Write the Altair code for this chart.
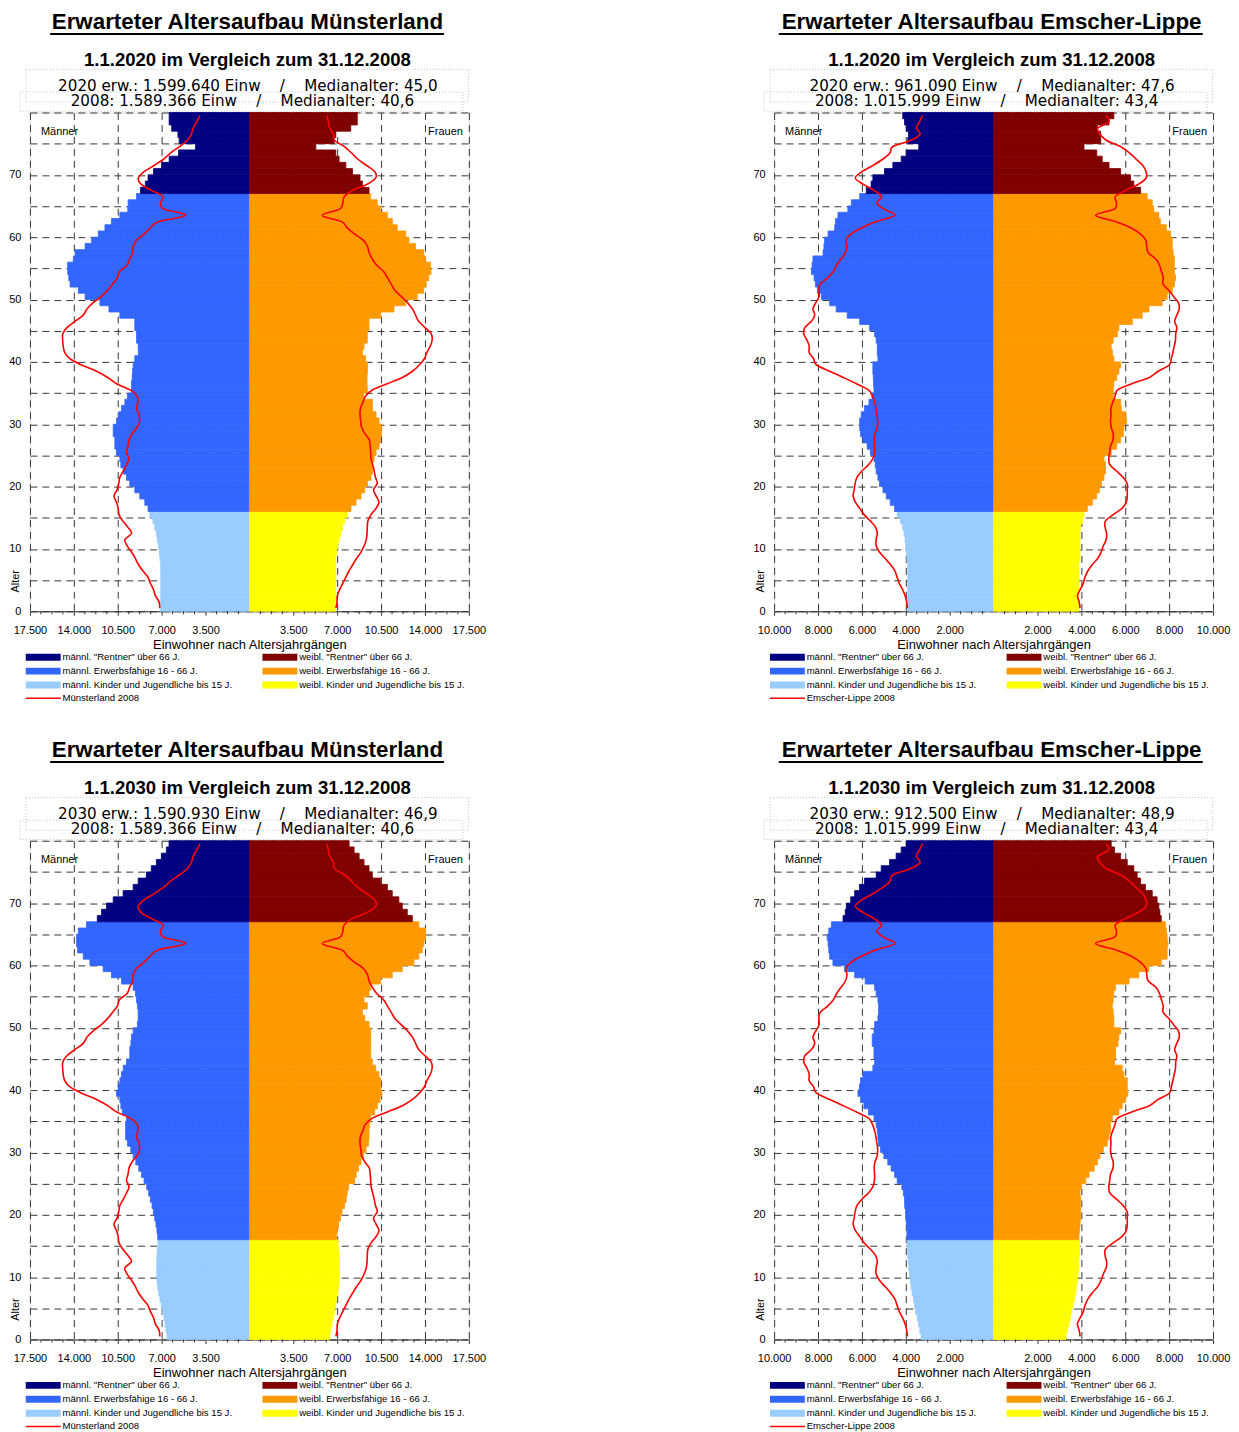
import altair as alt
import pandas as pd

FONT = "Liberation Sans"
WIDE = "DejaVu Sans"
AGES = list(range(80))

M_GROUPS = ['männl. "Rentner" über 66 J.', 'männl. Erwerbsfähige 16 - 66 J.', 'männl. Kinder und Jugendliche bis 15 J.']
F_GROUPS = ['weibl. "Rentner" über 66 J.', 'weibl. Erwerbsfähige 16 - 66 J.', 'weibl. Kinder und Jugendliche bis 15 J.']
M_COLORS = ["#000080", "#3366ff", "#99ccff"]
F_COLORS = ["#800000", "#ff9900", "#ffff00"]

# ---- Münsterland, expected 1.1.2020 (ages 0..79)
MS20_M = [7070, 7070, 7070, 7070, 7070, 7070, 7070, 7070, 7130, 7180,
          7260, 7340, 7420, 7550, 7690, 7950, 8080, 8340, 8740, 9140,
          9540, 9800, 10060, 10250, 10330, 10600, 10730, 10730, 10860, 10860,
          10600, 10410, 10200, 9930, 9720, 9400, 9400, 9350, 9320, 9270,
          9140, 8850, 8870, 9000, 9000, 9140, 9140, 10330, 11200, 11920,
          13100, 13640, 14300, 14400, 14490, 14490, 14040, 13900, 13100, 12580,
          12050, 11520, 11000, 10330, 9700, 9670, 9000, 8680, 8300, 8080,
          7650, 7000, 6400, 5650, 4300, 5600, 5700, 6200, 6400, 6400]
MS20_F = [6890, 6890, 6890, 6890, 6890, 6890, 6890, 6890, 6890, 6960,
          7050, 7160, 7300, 7430, 7600, 7820, 8100, 8500, 8900, 9200,
          9410, 9700, 9810, 9810, 9940, 10100, 10340, 10450, 10520, 10520,
          10340, 10100, 9810, 9810, 9100, 9400, 9380, 9380, 9410, 9410,
          9270, 9010, 9140, 9400, 9400, 9540, 9540, 10470, 11530, 12460,
          13380, 13900, 14100, 14300, 14480, 14450, 14040, 13910, 13250, 12720,
          12460, 11790, 11400, 11000, 10470, 10200, 9670, 9540, 9010, 8820,
          8220, 7690, 7150, 6890, 5300, 6760, 6890, 8080, 8600, 8600]
# ---- Münsterland, expected 1.1.2030
MS30_M = [6570, 6650, 6730, 6810, 6920, 7020, 7130, 7230, 7310, 7370,
          7390, 7390, 7390, 7370, 7340, 7290, 7310, 7370, 7450, 7550,
          7660, 7760, 7900, 8030, 8190, 8400, 8610, 8820, 9060, 9270,
          9460, 9720, 9870, 9870, 9870, 9800, 10140, 10250, 10330, 10600,
          10460, 10330, 10200, 10060, 9800, 9540, 9540, 9450, 9410, 9270,
          8930, 8870, 8870, 8930, 9000, 9080, 9270, 10200, 11000, 11660,
          12720, 13250, 13700, 13780, 13780, 13640, 12990, 12130, 11790, 11400,
          10860, 10070, 9270, 8870, 8220, 7820, 7420, 7020, 6620, 6410]
MS30_F = [6400, 6480, 6590, 6690, 6800, 6880, 6960, 7060, 7110, 7160,
          7190, 7190, 7190, 7160, 7110, 7060, 6960, 7010, 7110, 7270,
          7380, 7590, 7720, 7800, 7910, 8390, 8520, 8700, 8900, 9100,
          9300, 9490, 9540, 9540, 9600, 9670, 9990, 10200, 10420, 10550,
          10470, 10470, 10330, 10070, 9800, 9670, 9670, 9670, 9670, 9670,
          9540, 9200, 9010, 9400, 9140, 9540, 9670, 10470, 11390, 12190,
          13120, 13510, 13780, 13910, 14040, 14040, 13510, 12990, 12590, 12190,
          11920, 11390, 11000, 10470, 9800, 9540, 9140, 8750, 8350, 7950]
# ---- Münsterland 31.12.2008 (red line)
MS08_M = [7150, 7200, 7500, 7650, 7900, 8100, 8500, 8850, 9100, 9400,
          9750, 9930, 9400, 9700, 10100, 10400, 10460, 10600, 10800, 10550,
          10420, 10330, 10050, 9800, 9600, 9800, 9680, 9600, 9350, 8950,
          8750, 8800, 9000, 8900, 8950, 9500, 10600, 11300, 12190, 13380,
          14300, 14720, 14850, 14890, 14880, 14550, 13910, 13250, 12950, 12450,
          11800, 11300, 10900, 10520, 10360, 9750, 9550, 9300, 9270, 9010,
          8400, 7900, 7240, 5100, 6800, 7100, 6900, 7800, 8650, 8850,
          8400, 7600, 6850, 6300, 5600, 4950, 4630, 4480, 4200, 3950]
MS08_F = [6900, 6990, 7010, 7200, 7450, 7700, 7950, 8250, 8550, 8900,
          9150, 9320, 9380, 9400, 9450, 9700, 10100, 10330, 10100, 9900,
          10200, 10050, 9950, 9830, 9700, 9670, 9630, 9560, 9200, 8950,
          8880, 8820, 8850, 9050, 9250, 9800, 11000, 12200, 13000, 13550,
          13950, 14150, 14420, 14570, 14500, 14000, 13500, 13250, 13000, 12600,
          12100, 11600, 11300, 11000, 10700, 10150, 9800, 9550, 9420, 9100,
          8400, 7800, 7350, 5800, 7200, 7450, 7560, 8200, 9400, 10070,
          10000, 9350, 8650, 8150, 7600, 6800, 6700, 6420, 6300, 6180]

# ---- Emscher-Lippe, expected 1.1.2020
EL20_M = [3910, 3910, 3910, 3910, 3910, 3910, 3910, 3910, 3950, 3970,
          4000, 4030, 4080, 4140, 4240, 4390, 4510, 4710, 4890, 5040,
          5200, 5270, 5350, 5390, 5450, 5610, 5760, 5950, 6060, 6100,
          6100, 6030, 5880, 5680, 5540, 5450, 5470, 5480, 5500, 5500,
          5270, 5300, 5300, 5350, 5420, 5650, 6100, 6670, 7170, 7470,
          7850, 8030, 8120, 8180, 8300, 8270, 8230, 7770, 7730, 7700,
          7540, 7240, 7200, 7090, 6640, 6480, 6100, 5800, 5580, 5500,
          4970, 4590, 4210, 3980, 3410, 3910, 3880, 3980, 4060, 4140]
EL20_F = [3890, 3890, 3890, 3890, 3890, 3890, 3890, 3890, 3940, 3940,
          3940, 3940, 3940, 3970, 4050, 4120, 4270, 4500, 4700, 4820,
          4910, 5030, 5100, 5100, 5030, 5360, 5610, 5790, 5910, 5940,
          6060, 6010, 5820, 5790, 5450, 5450, 5480, 5610, 5710, 5790,
          5480, 5410, 5360, 5450, 5640, 5710, 6320, 6770, 7080, 7680,
          7910, 8140, 8240, 8290, 8240, 8240, 8240, 8180, 8140, 8140,
          8060, 7880, 7600, 7530, 7300, 7230, 7000, 6700, 6390, 6240,
          5790, 5260, 4950, 4700, 4120, 4880, 4880, 4730, 5260, 5480]
# ---- Emscher-Lippe, expected 1.1.2030
EL30_M = [3300, 3360, 3420, 3480, 3550, 3610, 3650, 3710, 3760, 3800,
          3830, 3860, 3890, 3910, 3920, 3940, 3950, 3950, 3970, 4000,
          4010, 4050, 4060, 4110, 4180, 4390, 4510, 4670, 4820, 5000,
          5150, 5240, 5270, 5300, 5350, 5450, 5700, 5910, 6060, 6180,
          6110, 6060, 5950, 5500, 5420, 5450, 5450, 5530, 5530, 5450,
          5420, 5270, 5240, 5240, 5270, 5350, 5420, 5850, 6330, 6790,
          7320, 7470, 7510, 7540, 7580, 7510, 7390, 6860, 6760, 6710,
          6510, 6330, 6110, 5880, 5350, 5120, 4740, 4440, 4210, 3980]
EL30_F = [3300, 3360, 3440, 3500, 3560, 3620, 3680, 3740, 3790, 3820,
          3850, 3880, 3890, 3910, 3920, 3920, 3890, 3910, 3940, 3960,
          3970, 3970, 3970, 3940, 4000, 4200, 4350, 4580, 4730, 4850,
          5000, 5180, 5260, 5330, 5330, 5410, 5710, 5860, 6010, 6120,
          6090, 6090, 5940, 5860, 5510, 5560, 5560, 5670, 5710, 5790,
          5480, 5480, 5450, 5410, 5450, 5480, 5560, 6170, 6620, 7080,
          7640, 7910, 7910, 7940, 7910, 7880, 7830, 7640, 7580, 7530,
          7450, 7230, 6920, 6700, 6540, 6390, 6090, 5790, 5510, 5360]
# ---- Emscher-Lippe 31.12.2008 (red line)
EL08_M = [3920, 3960, 4030, 4150, 4300, 4400, 4500, 4700, 4950, 5200,
          5350, 5350, 5300, 5380, 5620, 5900, 6100, 6300, 6400, 6350,
          6310, 6220, 6000, 5700, 5500, 5430, 5420, 5440, 5400, 5300,
          5280, 5320, 5360, 5420, 5520, 5700, 6250, 6850, 7470, 8070,
          8200, 8400, 8400, 8500, 8650, 8600, 8300, 8150, 8230, 8100,
          7950, 7960, 7900, 7550, 7300, 7150, 6950, 6750, 6680, 6730,
          6500, 6000, 5350, 4500, 5000, 5320, 5100, 5450, 5950, 6300,
          6000, 5500, 5050, 4720, 4600, 3800, 3350, 3520, 3380, 3240]
EL08_F = [3940, 3900, 3820, 3950, 4090, 4170, 4300, 4500, 4750, 4900,
          5000, 5130, 5150, 5080, 5100, 5450, 5850, 6050, 6090, 6090,
          6090, 5900, 5600, 5300, 5250, 5290, 5330, 5440, 5450, 5360,
          5330, 5350, 5340, 5430, 5540, 5650, 6300, 7100, 7500, 8000,
          8100, 8170, 8230, 8290, 8300, 8350, 8250, 8350, 8460, 8420,
          8200, 7980, 7720, 7730, 7650, 7560, 7400, 7050, 6980, 6940,
          6700, 6250, 5550, 4650, 5500, 5600, 5550, 6000, 6600, 6950,
          6950, 6800, 6500, 6200, 5800, 5150, 4850, 4750, 5250, 5120]

SEP = "\u00a0\u00a0\u00a0\u00a0/\u00a0\u00a0\u00a0\u00a0"
PANELS = [
    dict(region="Münsterland", date="1.1.2020", m=MS20_M, f=MS20_F, m08=MS08_M, f08=MS08_F,
         line1="2020 erw.: 1.599.640 Einw" + SEP + "Medianalter: 45,0",
         line2="2008: 1.589.366 Einw" + SEP + "Medianalter: 40,6",
         xmax=17500, step=3500, minor=875, ul=(20.3, 415.0)),
    dict(region="Emscher-Lippe", date="1.1.2020", m=EL20_M, f=EL20_F, m08=EL08_M, f08=EL08_F,
         line1="2020 erw.: 961.090 Einw" + SEP + "Medianalter: 47,6",
         line2="2008: 1.015.999 Einw" + SEP + "Medianalter: 43,4",
         xmax=10000, step=2000, minor=500, ul=(4.7, 429.7)),
    dict(region="Münsterland", date="1.1.2030", m=MS30_M, f=MS30_F, m08=MS08_M, f08=MS08_F,
         line1="2030 erw.: 1.590.930 Einw" + SEP + "Medianalter: 46,9",
         line2="2008: 1.589.366 Einw" + SEP + "Medianalter: 40,6",
         xmax=17500, step=3500, minor=875, ul=(20.3, 415.0)),
    dict(region="Emscher-Lippe", date="1.1.2030", m=EL30_M, f=EL30_F, m08=EL08_M, f08=EL08_F,
         line1="2030 erw.: 912.500 Einw" + SEP + "Medianalter: 48,9",
         line2="2008: 1.015.999 Einw" + SEP + "Medianalter: 43,4",
         xmax=10000, step=2000, minor=500, ul=(4.7, 429.7)),
]

W, H = 440, 500
GRID = "#363636"
SWATCH = "M-5,-1H5V1H-5Z"
LINE_SYM = "M-5,0H5"


def group_of(a, groups):
    return groups[0] if a >= 67 else (groups[1] if a >= 16 else groups[2])


def legend(x, y, sym, sw=0):
    return alt.Legend(title=None, orient="none", legendX=x, legendY=y, symbolType=sym,
                      symbolSize=49, symbolStrokeWidth=sw, labelFontSize=9.6, labelFont=FONT,
                      labelColor="black", labelOffset=14.5, rowPadding=3, padding=0,
                      labelLimit=400, symbolOpacity=1)


def text(s, x, y, size, weight="normal", align="center", font=FONT):
    return alt.Chart(pd.DataFrame({"t": [s]})).mark_text(
        align=align, baseline="alphabetic", fontSize=size, fontWeight=weight, font=font,
        color="black").encode(text="t:N", x=alt.value(x), y=alt.value(y))


def box(x1, x2, y1, y2):
    return alt.Chart(pd.DataFrame({"k": [0]})).mark_rect(
        filled=False, color="#c4c4c4", strokeDash=[1, 2], strokeWidth=1).encode(
        x=alt.value(x1), x2=alt.value(x2), y=alt.value(y1), y2=alt.value(y2))


def panel(p):
    xmax, step = p["xmax"], p["step"]
    majors = [k * step for k in range(-5, 6) if k != 0]
    minors = [k * p["minor"] for k in range(-20, 21) if k % 4 != 0]
    xscale = alt.Scale(domain=[-xmax, xmax], nice=False, zero=False)
    yscale = alt.Scale(domain=[0, 80], nice=False, zero=False)
    xaxis = alt.Axis(values=majors,
                     labelExpr="datum.value == 0 ? '' : replace(format(abs(datum.value), ','), ',', '.')",
                     grid=True, gridDash=[7, 5], gridColor=GRID, gridWidth=1,
                     domain=True, domainColor="#333333", ticks=True, tickColor="#333333", tickSize=4,
                     labelFontSize=11, labelFont=FONT, labelColor="black", labelPadding=9,
                     labelFlush=False, labelOverlap=False,
                     title="Einwohner nach Altersjahrgängen", titleFontSize=13, titleFont=FONT,
                     titleFontWeight="normal", titleColor="black", titleY=37, titleBaseline="alphabetic")
    yaxis = alt.Axis(values=list(range(0, 81, 5)),
                     labelExpr="(datum.value % 10 == 0 && datum.value <= 70) ? datum.label : ''",
                     grid=True, gridDash=[7, 5], gridColor=GRID, gridWidth=1,
                     domain=False, ticks=False, labelFontSize=11, labelFont=FONT, labelColor="black",
                     labelPadding=9, labelOverlap=False,
                     title="Alter", titleFontSize=11, titleFont=FONT, titleFontWeight="normal",
                     titleColor="black", titleAngle=270, titleX=-14, titleY=469.5, titleBaseline="middle")

    def X(f):
        return alt.X(f, type="quantitative", scale=xscale, axis=xaxis)

    def Y(f):
        return alt.Y(f, type="quantitative", scale=yscale, axis=yaxis)

    mdf = pd.DataFrame({"age": AGES, "age2": [a + 1 for a in AGES], "v": [-v for v in p["m"]],
                        "z": [0] * 80, "g": [group_of(a, M_GROUPS) for a in AGES]})
    fdf = pd.DataFrame({"age": AGES, "age2": [a + 1 for a in AGES], "v": p["f"],
                        "z": [0] * 80, "g": [group_of(a, F_GROUPS) for a in AGES]})
    src = p["region"] + " 2008"
    ldf = pd.DataFrame({"age": [a + 0.5 for a in AGES] * 2,
                        "v": [-v for v in p["m08"]] + list(p["f08"]),
                        "sex": ["m"] * 80 + ["w"] * 80, "src": [src] * 160})
    tdf = pd.DataFrame({"v": minors})

    males = alt.Chart(mdf).mark_bar(strokeWidth=0.8).encode(
        x=X("v"), x2="z:Q", y=Y("age"), y2="age2:Q",
        color=alt.Color("g:N", scale=alt.Scale(domain=M_GROUPS, range=M_COLORS),
                        legend=legend(8.5, 541.2, SWATCH)),
        stroke=alt.Stroke("g:N", scale=alt.Scale(domain=M_GROUPS, range=M_COLORS), legend=None))
    females = alt.Chart(fdf).mark_bar(strokeWidth=0.8).encode(
        x=X("v"), x2="z:Q", y=Y("age"), y2="age2:Q",
        fill=alt.Fill("g:N", scale=alt.Scale(domain=F_GROUPS, range=F_COLORS),
                      legend=legend(245.75, 541.2, SWATCH)),
        stroke=alt.Stroke("g:N", scale=alt.Scale(domain=F_GROUPS, range=F_COLORS), legend=None))
    minor_ticks = alt.Chart(tdf).mark_rule(color="#333333", strokeWidth=1).encode(
        x=X("v"), y=alt.value(H), y2=alt.value(H + 3))
    lines = alt.Chart(ldf).mark_line(strokeWidth=1.6, interpolate="cardinal").encode(
        x=X("v"), y=Y("age"), detail="sex:N", order="age:Q",
        stroke=alt.Stroke("src:N", scale=alt.Scale(domain=[src], range=["#ff0000"]),
                          legend=legend(8.5, 582.4, LINE_SYM, 1.6)))

    ul = p["ul"]
    underline = alt.Chart(pd.DataFrame({"k": [0]})).mark_rule(color="black", strokeWidth=2).encode(
        x=alt.value(ul[0]), x2=alt.value(ul[1]), y=alt.value(-78.8))

    layers = [
        males, females, minor_ticks, lines,
        text("Männer", 11, 22.8, 11, align="left"),
        text("Frauen", 434, 22.8, 11, align="right"),
        box(-4, 439.5, -43.2, -10.5),
        box(-10, 434, -20.5, -1.2),
        text("Erwarteter Altersaufbau " + p["region"], 218, -83.8, 22.4, weight="bold"),
        underline,
        text(p["date"] + " im Vergleich zum 31.12.2008", 218, -46.5, 18.6, weight="bold"),
        text(p["line1"], 218.5, -21.8, 15.2, font=WIDE),
        text(p["line2"], 213, -6.4, 15.2, font=WIDE),
    ]
    return alt.layer(*layers).resolve_scale(stroke="independent").properties(width=W, height=H)


chart = alt.concat(*[panel(p) for p in PANELS], columns=2, spacing={"row": 34, "column": 266})
chart = chart.resolve_scale(
    x="independent", y="independent", color="independent", fill="independent", stroke="independent"
).resolve_legend(
    color="independent", fill="independent", stroke="independent"
).resolve_axis(x="independent", y="independent")
chart = chart.properties(padding={"left": 0, "top": 0, "right": 0, "bottom": 0},
                         background="white")
chart = chart.configure_view(stroke=None).configure(font=FONT)

chart.save("out.html", embed_options={"renderer": "svg", "actions": False})
